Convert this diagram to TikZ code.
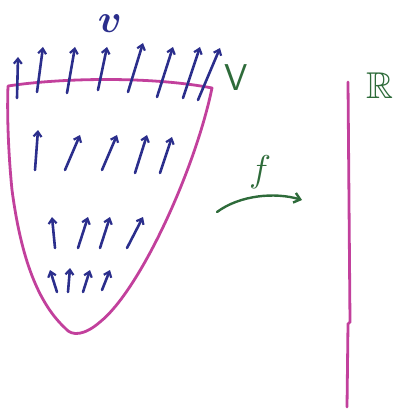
\documentclass[tikz,border=0pt]{standalone}
\usepackage{amsmath,amssymb,bm}
\usetikzlibrary{arrows.meta}
\definecolor{pen}{HTML}{C2409C}
\definecolor{ink}{HTML}{2B2E8C}
\definecolor{grn}{HTML}{2E6B3A}
\tikzset{
  field/.style={ink, line width=2.6pt, line cap=round, -{Straight Barb[length=5pt,width=8pt,line width=2.2pt]}},
  rim/.style={pen, line width=2.8pt, line cap=round, line join=round},
  lbl/.style={grn, font=\sffamily\Huge, scale=1.5},
}
\begin{document}
\begin{tikzpicture}[x=1pt,y=-1pt]
\useasboundingbox (0,0) rectangle (397,409);
% region outline
\draw[rim] (8,86) .. controls (60,78) and (150,76) .. (212,88)
  .. controls (195,170) and (140,290) .. (100,322)
  .. controls (85,335) and (72,337) .. (65,328)
  .. controls (35,300) and (20,250) .. (12,190)
  .. controls (8,150) and (7,110) .. (8,86);
% top row of vectors
\draw[field] (17,98) -- (18,57);
\draw[field] (37,92) -- (43,47);
\draw[field] (67,93) -- (75,47);
\draw[field] (98,90) -- (107,47);
\draw[field] (128,92) -- (143,43);
\draw[field] (157,97) -- (173,47);
\draw[field] (183,98) -- (200,47);
\draw[field] (198,100) -- (220,48);
% middle row
\draw[field] (35,170) -- (38,130);
\draw[field] (65,170) -- (80,135);
\draw[field] (102,170) -- (117,135);
\draw[field] (135,173) -- (147,135);
\draw[field] (160,173) -- (172,137);
% third row
\draw[field] (55,248) -- (52,217);
\draw[field] (78,248) -- (88,217);
\draw[field] (100,248) -- (110,217);
\draw[field] (127,248) -- (143,217);
% bottom row
\draw[field] (57,292) -- (50,270);
\draw[field] (68,292) -- (70,268);
\draw[field] (83,292) -- (90,270);
\draw[field] (102,290) -- (110,270);
% labels
\node[ink, font=\Huge, scale=1.6, inner sep=0pt] (v) at (110,24) {$\bm{v}$};
\node[lbl] (V) at (236,78) {V};
\node[lbl] (R) at (380,86) {$\mathbb{R}$};
% map f
\coordinate (fs) at (217,212);
\coordinate (fe) at (302,200);
\draw[grn, line width=2.4pt, line cap=round, -{Straight Barb[length=6pt,width=10pt]}] (fs) .. controls (240,195) and (275,192) .. (fe);
\node[lbl] (f) at (260,172) {$f$};
% real line
\draw[pen, line width=2.8pt, line cap=round] (348,82) -- (350,322) -- (348,324) -- (347,407);
\end{tikzpicture}
\end{document}
